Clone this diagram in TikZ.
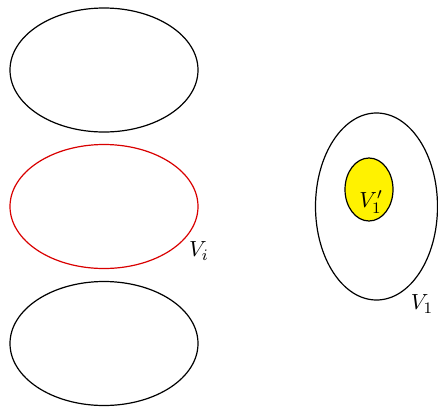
\documentclass[tikz,border=0pt]{standalone}
\usepackage{tikz}

\begin{document}
\begin{tikzpicture}[x=0.5pt, y=-0.5pt, line width=0.6pt]
		\useasboundingbox (0,0) rectangle (438,407);
		\fontsize{11}{13}\selectfont
		
		%linke Mengen
		\draw[] (104,70) ellipse (94 and 62);
		\draw[red!85!black] (104,206.5) ellipse (94 and 62);
		\draw[] (104,343.5) ellipse (94 and 62);
		\node (vi) at (199,251) {$V_i$};
		
		%rechte Menge
		\draw[] (376.5,206.5) ellipse (61 and 93.5);
		\draw[fill=yellow] (369,189.5) ellipse (24 and 31.5);
		\node (vsub) at (371,202) {$V_1'$};
		\node (vone) at (422,304) {$V_1$};
\end{tikzpicture}
\end{document}
